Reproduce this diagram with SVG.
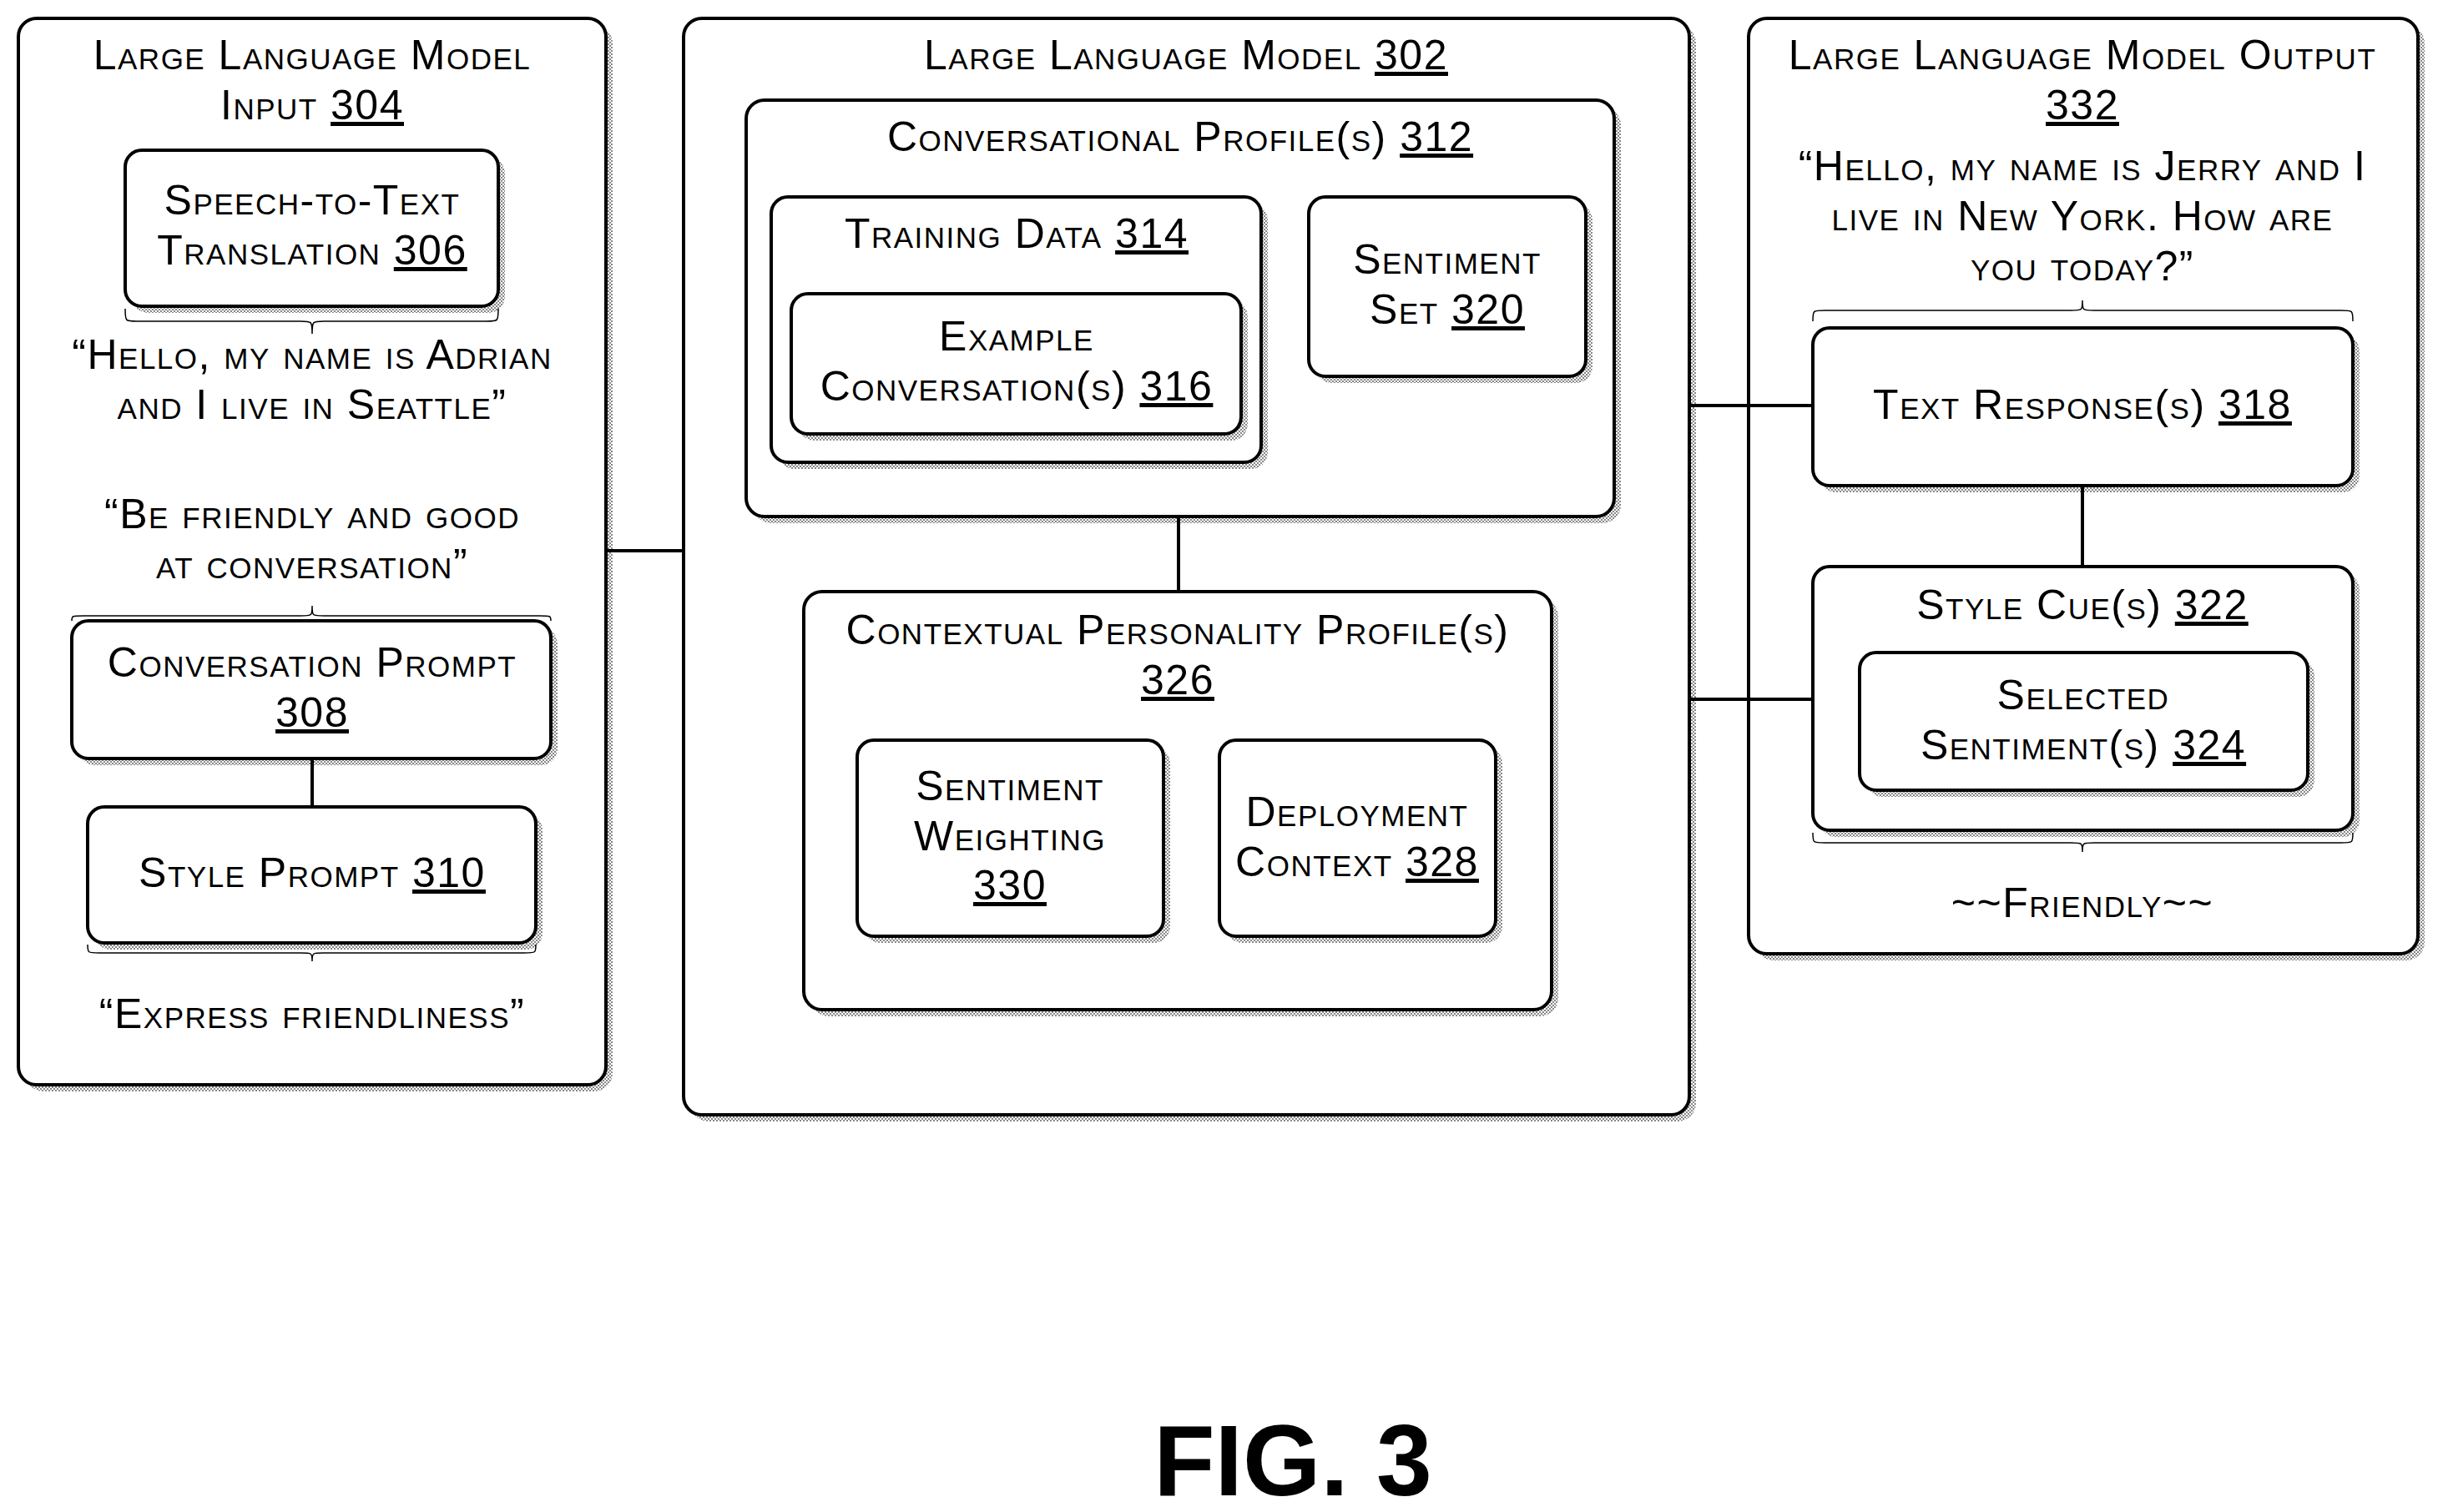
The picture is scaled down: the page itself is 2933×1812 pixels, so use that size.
<svg xmlns="http://www.w3.org/2000/svg" width="2933" height="1812" viewBox="0 0 2933 1812">
<defs>
<pattern id="dots" width="4" height="4" patternUnits="userSpaceOnUse"><rect width="4" height="4" fill="#fff"/><rect width="2" height="2" fill="#888"/><rect x="2" y="2" width="2" height="2" fill="#888"/></pattern>
</defs>
<style>
.b{fill:#fff;stroke:#000;stroke-width:4}
.s{fill:url(#dots)}
.t{font-family:"Liberation Sans",Arial,sans-serif;font-size:50px;letter-spacing:1.5px;font-variant:small-caps;text-anchor:middle;fill:#000}
.u{text-decoration:underline}
.c{stroke:#000;stroke-width:4;fill:none}
.br{stroke:#000;stroke-width:1.5;fill:none}
</style>
<rect width="2933" height="1812" fill="#fff"/>
<g id="input304">
<rect class="s" x="30" y="30" width="704" height="1278" rx="22"/>
<rect class="b" x="22" y="22" width="704" height="1278" rx="22"/>
<text class="t" x="374" y="83">Large Language Model</text>
<text class="t" x="374" y="143">Input <tspan class="u">304</tspan></text>
</g>
<g id="speech306">
<rect class="s" x="158" y="188" width="447" height="187" rx="20"/>
<rect class="b" x="150" y="180" width="447" height="187" rx="20"/>
<text class="t" x="374" y="257">Speech-to-Text</text>
<text class="t" x="374" y="317">Translation <tspan class="u">306</tspan></text>
<path class="br" d="M150,370 C150,385 150,385 164,385 L360,385 C374,385 374,385 374,400 C374,385 374,385 388,385 L583,385 C597,385 597,385 597,370"/>
<text class="t" x="374" y="442">“Hello, my name is Adrian</text>
<text class="t" x="374" y="502">and I live in Seattle”</text>
</g>
<g id="prompt308">
<text class="t" x="374" y="633">“Be friendly and good</text>
<text class="t" x="374" y="693">at conversation”</text>
<path class="br" d="M86,744 C86,738 86,738 100,738 L360,738 C374,738 374,738 374,726 C374,738 374,738 388,738 L646,738 C660,738 660,738 660,744"/>
<rect class="s" x="94" y="752" width="574" height="165" rx="20"/>
<rect class="b" x="86" y="744" width="574" height="165" rx="20"/>
<text class="t" x="374" y="811">Conversation Prompt</text>
<text class="t" x="374" y="871"><tspan class="u">308</tspan></text>
</g>
<g id="style310">
<rect class="s" x="113" y="975" width="537" height="163" rx="20"/>
<rect class="b" x="105" y="967" width="537" height="163" rx="20"/>
<text class="t" x="374" y="1063">Style Prompt <tspan class="u">310</tspan></text>
<path class="br" d="M105,1132 C105,1142 105,1142 119,1142 L360,1142 C374,1142 374,1142 374,1152 C374,1142 374,1142 388,1142 L628,1142 C642,1142 642,1142 642,1132"/>
<text class="t" x="374" y="1232">“Express friendliness”</text>
</g>
<g id="llm302">
<rect class="s" x="827" y="30" width="1205" height="1314" rx="22"/>
<rect class="b" x="819" y="22" width="1205" height="1314" rx="22"/>
<text class="t" x="1421" y="83">Large Language Model <tspan class="u">302</tspan></text>
</g>
<g id="conv312">
<rect class="s" x="902" y="128" width="1040" height="499" rx="22"/>
<rect class="b" x="894" y="120" width="1040" height="499" rx="22"/>
<text class="t" x="1414" y="181">Conversational Profile(s) <tspan class="u">312</tspan></text>
</g>
<g id="training314">
<rect class="s" x="932" y="244" width="587" height="318" rx="20"/>
<rect class="b" x="924" y="236" width="587" height="318" rx="20"/>
<text class="t" x="1218" y="297">Training Data <tspan class="u">314</tspan></text>
</g>
<g id="example316">
<rect class="s" x="956" y="360" width="539" height="168" rx="20"/>
<rect class="b" x="948" y="352" width="539" height="168" rx="20"/>
<text class="t" x="1218" y="420">Example</text>
<text class="t" x="1218" y="480">Conversation(s) <tspan class="u">316</tspan></text>
</g>
<g id="sentset320">
<rect class="s" x="1576" y="244" width="332" height="215" rx="20"/>
<rect class="b" x="1568" y="236" width="332" height="215" rx="20"/>
<text class="t" x="1734" y="328">Sentiment</text>
<text class="t" x="1734" y="388">Set <tspan class="u">320</tspan></text>
</g>
<g id="context326">
<rect class="s" x="971" y="717" width="896" height="501" rx="22"/>
<rect class="b" x="963" y="709" width="896" height="501" rx="22"/>
<text class="t" x="1411" y="772">Contextual Personality Profile(s)</text>
<text class="t" x="1411" y="832"><tspan class="u">326</tspan></text>
</g>
<g id="weight330">
<rect class="s" x="1035" y="895" width="367" height="235" rx="20"/>
<rect class="b" x="1027" y="887" width="367" height="235" rx="20"/>
<text class="t" x="1210" y="959">Sentiment</text>
<text class="t" x="1210" y="1019">Weighting</text>
<text class="t" x="1210" y="1078"><tspan class="u">330</tspan></text>
</g>
<g id="deploy328">
<rect class="s" x="1469" y="895" width="331" height="235" rx="20"/>
<rect class="b" x="1461" y="887" width="331" height="235" rx="20"/>
<text class="t" x="1626" y="990">Deployment</text>
<text class="t" x="1626" y="1050">Context <tspan class="u">328</tspan></text>
</g>
<g id="output332">
<rect class="s" x="2103" y="30" width="802" height="1121" rx="22"/>
<rect class="b" x="2095" y="22" width="802" height="1121" rx="22"/>
<text class="t" x="2495" y="83">Large Language Model Output</text>
<text class="t" x="2495" y="143"><tspan class="u">332</tspan></text>
<text class="t" x="2495" y="216">“Hello, my name is Jerry and I</text>
<text class="t" x="2495" y="276">live in New York. How are</text>
<text class="t" x="2495" y="336">you today?”</text>
<path class="br" d="M2172,385 C2172,372 2172,372 2186,372 L2481,372 C2495,372 2495,372 2495,360 C2495,372 2495,372 2509,372 L2805,372 C2819,372 2819,372 2819,385"/>
</g>
<g id="text318">
<rect class="s" x="2180" y="401" width="647" height="189" rx="20"/>
<rect class="b" x="2172" y="393" width="647" height="189" rx="20"/>
<text class="t" x="2495" y="502">Text Response(s) <tspan class="u">318</tspan></text>
</g>
<g id="cue322">
<rect class="s" x="2180" y="687" width="647" height="316" rx="20"/>
<rect class="b" x="2172" y="679" width="647" height="316" rx="20"/>
<text class="t" x="2495" y="742">Style Cue(s) <tspan class="u">322</tspan></text>
<path class="br" d="M2172,998 C2172,1010 2172,1010 2186,1010 L2481,1010 C2495,1010 2495,1010 2495,1021 C2495,1010 2495,1010 2509,1010 L2805,1010 C2819,1010 2819,1010 2819,998"/>
<text class="t" x="2495" y="1099">~~Friendly~~</text>
</g>
<g id="selected324">
<rect class="s" x="2236" y="790" width="537" height="165" rx="20"/>
<rect class="b" x="2228" y="782" width="537" height="165" rx="20"/>
<text class="t" x="2496" y="850">Selected</text>
<text class="t" x="2496" y="910">Sentiment(s) <tspan class="u">324</tspan></text>
</g>
<g id="connectors">
<line class="c" x1="728" y1="660" x2="817" y2="660"/>
<line class="c" x1="374" y1="911" x2="374" y2="965"/>
<line class="c" x1="1412" y1="621" x2="1412" y2="707"/>
<line class="c" x1="2026" y1="486" x2="2170" y2="486"/>
<line class="c" x1="2026" y1="838" x2="2170" y2="838"/>
<line class="c" x1="2495" y1="584" x2="2495" y2="677"/>
</g>
<text x="1549" y="1792" font-family="Liberation Sans,Arial,sans-serif" font-size="120" font-weight="bold" text-anchor="middle">FIG. 3</text>
</svg>
